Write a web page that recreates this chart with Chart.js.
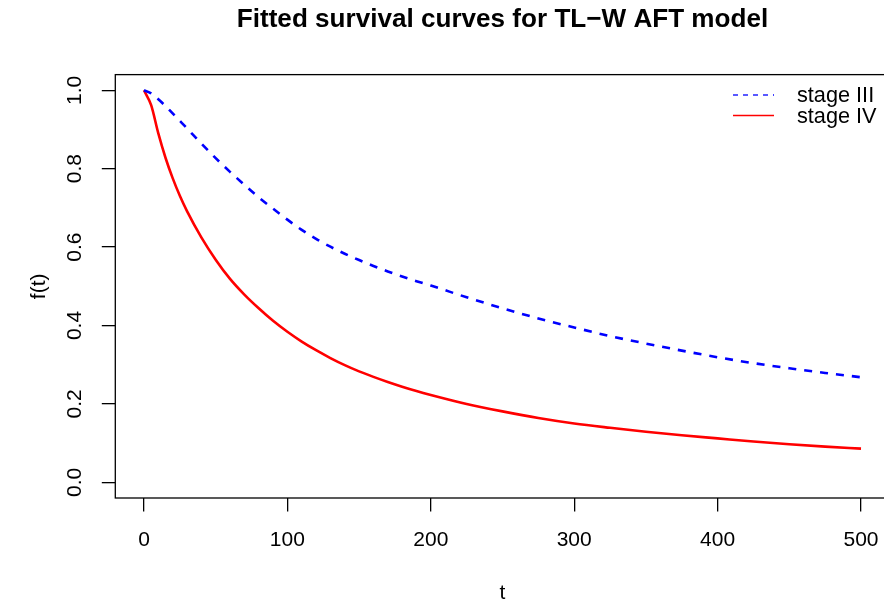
<!DOCTYPE html>
<html lang="en">
<head>
<meta charset="UTF-8">
<title>Fitted survival curves for TL−W AFT model</title>
<style>
  html, body { margin: 0; padding: 0; background: #fff; overflow: hidden; }
  #chart { display: block; }
</style>
</head>
<body>
<canvas id="chart" width="920" height="606"></canvas>
<script src="https://cdn.jsdelivr.net/npm/chart.js"></script>
<script>
// values
const times = [0, 5, 10, 15, 20, 25, 30, 40, 50, 60, 70, 80, 90, 100, 110, 120, 130, 140, 150,
  160, 170, 180, 190, 200, 225, 250, 275, 300, 325, 350, 375, 400, 425, 450, 475, 500];
const stageIII = [1.0, 0.992, 0.977, 0.960, 0.941, 0.922, 0.903, 0.864, 0.827, 0.792, 0.759, 0.727,
  0.698, 0.670, 0.644, 0.621, 0.601, 0.583, 0.567, 0.552, 0.538, 0.525, 0.513, 0.502, 0.472, 0.444,
  0.418, 0.395, 0.373, 0.354, 0.336, 0.319, 0.304, 0.291, 0.279, 0.268];
const stageIV = [1.0, 0.962, 0.890, 0.828, 0.776, 0.731, 0.692, 0.625, 0.568, 0.519, 0.479, 0.444,
  0.412, 0.384, 0.359, 0.337, 0.317, 0.299, 0.283, 0.269, 0.256, 0.244, 0.233, 0.223, 0.200, 0.181,
  0.164, 0.150, 0.139, 0.129, 0.120, 0.112, 0.104, 0.097, 0.091, 0.086];
const seriesLabels = ['stage III', 'stage IV'];
const xTicks = [0, 100, 200, 300, 400, 500];
const yTicks = [0, 0.2, 0.4, 0.6, 0.8, 1.0];
const yTickLabels = ['0.0', '0.2', '0.4', '0.6', '0.8', '1.0'];

const FONT = '"Liberation Sans", Arial, Helvetica, sans-serif';
const legendDash = [[5, 5], []];

// R style: box around the plot, vertical y labels, legend without frame
const rStyle = {
  id: 'rStyle',
  afterDraw(chart) {
    const { ctx, chartArea: a, scales: { y } } = chart;
    ctx.save();
    ctx.strokeStyle = '#000';
    ctx.lineWidth = 1.3;
    ctx.strokeRect(a.left, a.top, a.right - a.left, a.bottom - a.top);

    ctx.fillStyle = '#000';
    ctx.font = '21px ' + FONT;
    ctx.textAlign = 'center';
    ctx.textBaseline = 'middle';
    yTicks.forEach((v, i) => {
      ctx.save();
      ctx.translate(75, y.getPixelForValue(v));
      ctx.rotate(-Math.PI / 2);
      ctx.fillText(yTickLabels[i], 0, 0);
      ctx.restore();
    });

    ctx.font = '21.7px ' + FONT;
    chart.data.datasets.forEach((ds, i) => {
      const ly = 95 + i * 20.5;
      ctx.beginPath();
      ctx.setLineDash(legendDash[i]);
      ctx.strokeStyle = ds.borderColor;
      ctx.lineWidth = 1.3;
      ctx.moveTo(733, ly);
      ctx.lineTo(774, ly);
      ctx.stroke();
      ctx.setLineDash([]);
      ctx.textAlign = 'left';
      ctx.fillText(ds.label, 797, ly + 1.5);
    });
    ctx.restore();
  }
};

const axisGrid = {
  drawOnChartArea: false,
  drawTicks: true,
  tickLength: 13.5,
  color: '#000',
  lineWidth: 1.3
};

new Chart(document.getElementById('chart'), {
  type: 'line',
  data: {
    datasets: [
      {
        label: seriesLabels[0],
        data: times.map((t, i) => ({ x: t, y: stageIII[i] })),
        borderColor: '#0000FF',
        borderWidth: 2.6,
        borderDash: [8, 8],
        pointRadius: 0,
        fill: false,
        cubicInterpolationMode: 'monotone'
      },
      {
        label: seriesLabels[1],
        data: times.map((t, i) => ({ x: t, y: stageIV[i] })),
        borderColor: '#FF0000',
        borderWidth: 2.6,
        pointRadius: 0,
        fill: false,
        cubicInterpolationMode: 'monotone'
      }
    ]
  },
  options: {
    responsive: false,
    animation: false,
    devicePixelRatio: 1,
    layout: { padding: { left: 0, right: 30.3, top: 0, bottom: 0 } },
    plugins: {
      legend: { display: false },
      tooltip: { enabled: false },
      title: {
        display: true,
        fullSize: false,
        text: 'Fitted survival curves for TL−W AFT model',
        color: '#000',
        font: { family: FONT, size: 26.1, weight: 'bold' },
        padding: { top: 4.6, bottom: 38.7 }
      }
    },
    scales: {
      x: {
        type: 'linear',
        min: -20,
        max: 520,
        afterBuildTicks: s => { s.ticks = xTicks.map(v => ({ value: v })); },
        afterFit: s => { s.height = 108; },
        grid: axisGrid,
        border: { display: false },
        ticks: {
          color: '#000',
          font: { family: FONT, size: 21 },
          padding: 16,
          maxRotation: 0,
          autoSkip: false,
          callback: v => String(v)
        },
        title: {
          display: true,
          text: 't',
          color: '#000',
          font: { family: FONT, size: 21 },
          padding: { top: 0, bottom: 0.4 }
        }
      },
      y: {
        type: 'linear',
        min: -0.04,
        max: 1.04,
        afterBuildTicks: s => { s.ticks = yTicks.map(v => ({ value: v })); },
        afterFit: s => { s.width = 115.3; },
        grid: axisGrid,
        border: { display: false },
        ticks: { display: false },
        title: {
          display: true,
          text: 'f(t)',
          color: '#000',
          font: { family: FONT, size: 21 },
          padding: { top: 26.9, bottom: 0 }
        }
      }
    }
  },
  plugins: [rStyle]
});
</script>
</body>
</html>
